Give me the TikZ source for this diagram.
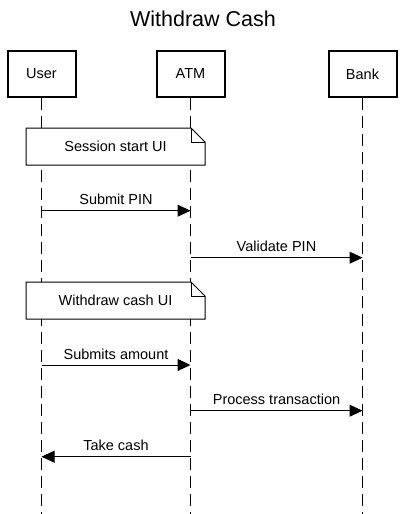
\documentclass[tikz,border=0pt]{standalone}
\usepackage{fontspec}
\setmainfont{Liberation Sans}
\usetikzlibrary{arrows.meta}
\begin{document}
\begin{tikzpicture}[x=1pt,y=-1pt,
  actor/.style={draw,line width=2pt,minimum width=68pt,minimum height=46pt,inner sep=0pt,font=\fontsize{14.5}{17}\selectfont},
  lifeline/.style={line width=1pt,dash pattern=on 12pt off 6pt},
  msg/.style={line width=1pt,-{Triangle[length=13pt,width=12pt]}},
  lbl/.style={anchor=base,inner sep=0pt,font=\fontsize{14.5}{17}\selectfont},
  notebox/.style={draw,line width=1pt,fill=white},
  notetext/.style={inner sep=0pt,font=\fontsize{14.5}{17}\selectfont}]
\useasboundingbox (0,0) rectangle (405,514);
\node[anchor=base,inner sep=0pt,font=\fontsize{21.5}{25}\selectfont] (title) at (203,26) {Withdraw Cash};
% actors
\node[actor] (user) at (41.5,74) {User};
\node[actor] (atm)  at (190.5,74) {ATM};
\node[actor] (bank) at (362.5,74) {Bank};
\coordinate (userEnd) at (41.5,514);
\coordinate (atmEnd) at (190.5,514);
\coordinate (bankEnd) at (362.5,514);
\draw[lifeline] (user.south) -- (userEnd);
\draw[lifeline] (atm.south) -- (atmEnd);
\draw[lifeline] (bank.south) -- (bankEnd);
% note 1
\draw[notebox] (26,128) -- (191,128) -- (205,142) -- (205,165) -- (26,165) -- cycle;
\draw[line width=1pt] (191,128) -- (191,142) -- (205,142);
\node[notetext] (n1) at (115.5,146.5) {Session start UI};
% note 2
\draw[notebox] (26,282) -- (191,282) -- (205,296) -- (205,319) -- (26,319) -- cycle;
\draw[line width=1pt] (191,282) -- (191,296) -- (205,296);
\node[notetext] (n2) at (115.5,300.5) {Withdraw cash UI};
% message anchors
\coordinate (u1) at (41.5,210.7);  \coordinate (a1) at (190.5,210.7);
\coordinate (a2) at (190.5,257.7); \coordinate (b2) at (362.5,257.7);
\coordinate (u3) at (41.5,365);    \coordinate (a3) at (190.5,365);
\coordinate (a4) at (190.5,410.7); \coordinate (b4) at (362.5,410.7);
\coordinate (a5) at (190.5,456.7); \coordinate (u5) at (41.5,456.7);
\draw[msg] (u1) -- (a1);
\draw[msg] (a2) -- (b2);
\draw[msg] (u3) -- (a3);
\draw[msg] (a4) -- (b4);
\draw[msg] (a5) -- (u5);
\node[lbl] (l1) at (116,204.7) {Submit PIN};
\node[lbl] (l2) at (276.5,251.7) {Validate PIN};
\node[lbl] (l3) at (116,359) {Submits amount};
\node[lbl] (l4) at (276.5,404.7) {Process transaction};
\node[lbl] (l5) at (116,450.7) {Take cash};
\end{tikzpicture}
\end{document}
